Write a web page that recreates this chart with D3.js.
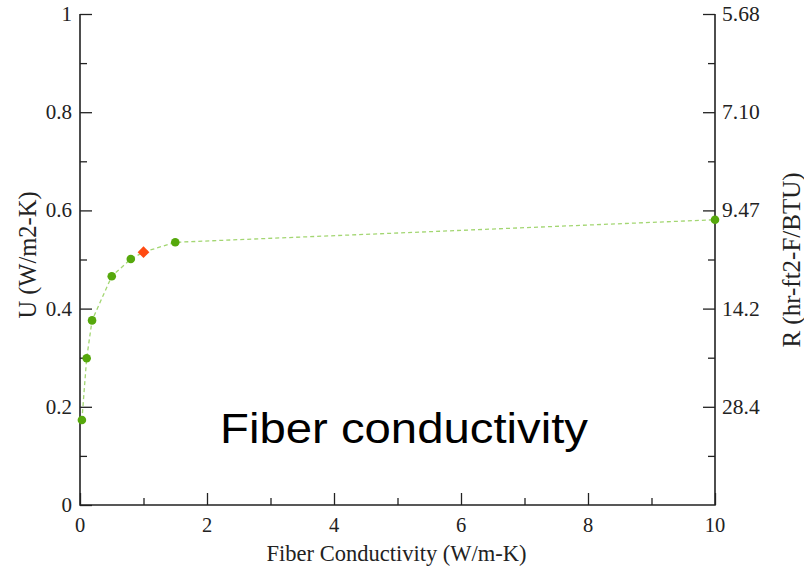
<!DOCTYPE html>
<html>
<head>
<meta charset="utf-8">
<script src="https://cdn.jsdelivr.net/npm/d3@7"></script>
<style>
  body { margin: 0; background: #fff; }
  svg { display: block; }
</style>
</head>
<body>
<svg id="chart" width="804" height="571"></svg>
<script>
const conductivity = [0.03, 0.105, 0.19, 0.5, 0.8, 1.5, 10];
const uValues = [0.173, 0.299, 0.376, 0.466, 0.501, 0.535, 0.581];
const baseline = { x: 1.0, u: 0.515 };
const xTicks = [0, 2, 4, 6, 8, 10];
const yTicks = [0, 0.2, 0.4, 0.6, 0.8, 1];
const rTicks = [0.2, 0.4, 0.6, 0.8, 1];
const rLabels = ['28.4', '14.2', '9.47', '7.10', '5.68'];

const svg = d3.select('#chart');
const plotL = 80, plotR = 715, plotT = 14, plotB = 505;
const serif = '"Liberation Serif", "Times New Roman", serif';
const ink = '#222';

const x = d3.scaleLinear().domain([0, 10]).range([plotL, plotR]);
const y = d3.scaleLinear().domain([0, 1]).range([plotB, plotT]);

// inward ticks on bottom, left and right
const gx = svg.append('g').attr('transform', `translate(0,${plotB})`)
  .call(d3.axisTop(x).tickValues(d3.range(0, 11, 1)).tickSize(0).tickFormat(''));
gx.select('.domain').remove();
gx.selectAll('.tick line').attr('y2', (d) => (d % 2 === 0 ? -12 : -7)).attr('stroke', ink).attr('stroke-width', 1.3);

const gy = svg.append('g').attr('transform', `translate(${plotL},0)`)
  .call(d3.axisRight(y).tickValues(d3.range(0, 1.01, 0.1)).tickSize(0).tickFormat(''));
gy.select('.domain').remove();
gy.selectAll('.tick line').attr('x2', (d, i) => (i % 2 === 0 ? 12 : 7)).attr('stroke', ink).attr('stroke-width', 1.3);

const gr = svg.append('g').attr('transform', `translate(${plotR},0)`)
  .call(d3.axisLeft(y).tickValues(d3.range(0.1, 1.01, 0.1)).tickSize(0).tickFormat(''));
gr.select('.domain').remove();
gr.selectAll('.tick line').attr('x2', (d, i) => (i % 2 === 1 ? -12 : -7)).attr('stroke', ink).attr('stroke-width', 1.3);

// frame (no top edge)
svg.append('path')
  .attr('d', `M${plotL},${plotT}V${plotB}H${plotR}V${plotT}`)
  .attr('fill', 'none').attr('stroke', ink).attr('stroke-width', 1.6);

// tick labels
svg.append('g').selectAll('text').data(xTicks).join('text')
  .attr('x', (d) => x(d)).attr('y', plotB + 27)
  .attr('text-anchor', 'middle').attr('font-family', serif).attr('font-size', 20.5).attr('fill', ink)
  .text((d) => d);

svg.append('g').selectAll('text').data(yTicks).join('text')
  .attr('x', plotL - 8).attr('y', (d) => y(d) + 7)
  .attr('text-anchor', 'end').attr('font-family', serif).attr('font-size', 21).attr('fill', ink)
  .text((d) => d3.format('~g')(d));

svg.append('g').selectAll('text').data(rTicks).join('text')
  .attr('x', plotR + 7).attr('y', (d) => y(d) + 7)
  .attr('text-anchor', 'start').attr('font-family', serif).attr('font-size', 21.5).attr('fill', ink)
  .text((d, i) => rLabels[i]);

// axis titles
svg.append('text')
  .attr('x', (plotL + plotR) / 2 - 1).attr('y', 561)
  .attr('text-anchor', 'middle').attr('font-family', serif).attr('font-size', 22.5).attr('fill', ink)
  .text('Fiber Conductivity (W/m-K)');

svg.append('text')
  .attr('transform', 'translate(36,255) rotate(-90)')
  .attr('text-anchor', 'middle').attr('font-family', serif).attr('font-size', 24.5).attr('fill', ink)
  .text('U (W/m2-K)');

svg.append('text')
  .attr('transform', 'translate(800,260) rotate(-90)')
  .attr('text-anchor', 'middle').attr('font-family', serif).attr('font-size', 25).attr('fill', ink)
  .text('R (hr-ft2-F/BTU)');

// data line through all points, baseline case included
const pts = conductivity.map((c, i) => ({ x: c, u: uValues[i] }));
const linePts = pts.concat([baseline]).sort((a, b) => a.x - b.x);
svg.append('path')
  .datum(linePts)
  .attr('d', d3.line().x((d) => x(d.x)).y((d) => y(d.u)))
  .attr('fill', 'none').attr('stroke', '#a3d672').attr('stroke-width', 1.3).attr('stroke-dasharray', '4,3');

svg.append('g').selectAll('circle').data(pts).join('circle')
  .attr('cx', (d) => x(d.x)).attr('cy', (d) => y(d.u)).attr('r', 4.3)
  .attr('fill', '#56a80c');

svg.append('path')
  .attr('d', d3.symbol().type(d3.symbolDiamond2).size(88)())
  .attr('transform', `translate(${x(baseline.x)},${y(baseline.u)})`)
  .attr('fill', '#ff4a12');

// annotation
svg.append('text')
  .attr('x', 220).attr('y', 443)
  .attr('textLength', 368).attr('lengthAdjust', 'spacingAndGlyphs')
  .attr('font-family', '"Liberation Sans", Arial, sans-serif')
  .attr('font-size', 42).attr('fill', '#000')
  .text('Fiber conductivity');
</script>
</body>
</html>
